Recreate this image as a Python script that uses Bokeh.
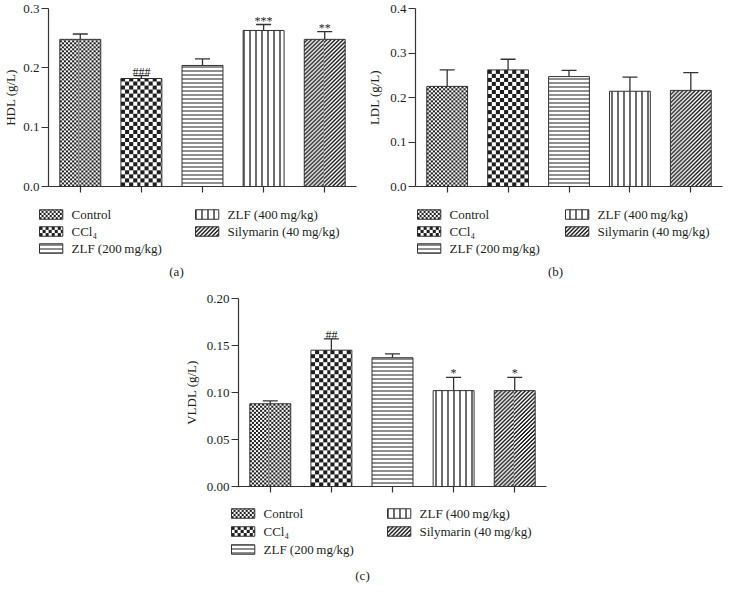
import numpy as np
from bokeh.plotting import figure
from bokeh.models import (ColumnDataSource, Range1d, FixedTicker, NumeralTickFormatter,
                          Whisker, TeeHead, Spacer)
from bokeh.layouts import column, row
from bokeh.embed import file_html
from bokeh.resources import INLINE
from bokeh.core.properties import value

# ---------------- data ----------------
groups = ["Control", "CCl\u2084", "ZLF (200\u2009mg/kg)", "ZLF (400\u2009mg/kg)", "Silymarin (40\u2009mg/kg)"]

hdl_mean = [0.248, 0.182, 0.204, 0.263, 0.248]
hdl_err = [0.009, 0.005, 0.011, 0.010, 0.013]
hdl_sig = ["", "###", "", "***", "**"]

ldl_mean = [0.225, 0.262, 0.247, 0.214, 0.216]
ldl_err = [0.037, 0.024, 0.014, 0.032, 0.040]
ldl_sig = ["", "", "", "", ""]

vldl_mean = [0.088, 0.145, 0.137, 0.102, 0.102]
vldl_err = [0.003, 0.012, 0.004, 0.014, 0.014]
vldl_sig = ["", "##", "", "*", "*"]

hdl_ticks = [0.0, 0.1, 0.2, 0.3]
ldl_ticks = [0.0, 0.1, 0.2, 0.3, 0.4]
vldl_ticks = [0.0, 0.05, 0.10, 0.15, 0.20]

# ---------------- style ----------------
FONT = "Liberation Serif"
INK = "#231f20"
BAR_LINE = "#333333"
HATCH = "#1e1e1e"
DARK_RGB = (30, 30, 30)
BAR_W = 0.67
X0, X1 = -0.52, 4.52

# per-group fill style: (texture kind, cell px) or hatch kwargs
bar_styles = [
    ("checker", 2),
    ("checker", 4),
    dict(hatch_pattern="-", hatch_scale=4, hatch_weight=1),
    dict(hatch_pattern="|", hatch_scale=6, hatch_weight=1.3),
    ("diag", 4),
]
swatch_cells = [2, 3, None, None, 4]


def texture_rgba(kind, nx, ny, cell):
    nx, ny = max(int(round(nx)), 1), max(int(round(ny)), 1)
    jj, ii = np.mgrid[0:ny, 0:nx]
    if kind == "checker":
        dark = ((ii // cell) + (jj // cell)) % 2 == 0
    else:  # right-diagonal stripes
        dark = ((ii - jj) % cell) < cell / 2
    img = np.empty((ny, nx), dtype=np.uint32)
    v = img.view(dtype=np.uint8).reshape((ny, nx, 4))
    v[..., 0] = np.where(dark, DARK_RGB[0], 255)
    v[..., 1] = np.where(dark, DARK_RGB[1], 255)
    v[..., 2] = np.where(dark, DARK_RGB[2], 255)
    v[..., 3] = 255
    return img


def make_plot(means, errs, sig, ylabel, yticks, yfmt, ymax, width, height,
              mb_left, mb_right, mb_top, mb_bottom, label_standoff):
    x = list(range(len(groups)))
    upper = [m + e for m, e in zip(means, errs)]
    src = ColumnDataSource(dict(x=x, top=means, upper=upper, sig=sig))
    p = figure(width=width, height=height, output_backend="svg", toolbar_location=None,
               x_range=Range1d(X0, X1), y_range=Range1d(0, ymax),
               min_border_left=mb_left, min_border_right=mb_right,
               min_border_top=mb_top, min_border_bottom=mb_bottom)
    p.outline_line_color = None
    p.xgrid.visible = False
    p.ygrid.visible = False

    fw = width - mb_left - mb_right
    fh = height - mb_top - mb_bottom
    px_x = fw / (X1 - X0)
    px_y = fh / ymax

    for i in x:
        st = bar_styles[i]
        if isinstance(st, tuple):
            img = texture_rgba(st[0], BAR_W * px_x, means[i] * px_y, st[1])
            p.image_rgba(image=[img], x=x[i] - BAR_W / 2, y=0, dw=BAR_W, dh=means[i])
            p.vbar(x=[x[i]], top=[means[i]], width=BAR_W, fill_color=None,
                   line_color=BAR_LINE, line_width=1)
        else:
            p.vbar(x=[x[i]], top=[means[i]], width=BAR_W, fill_color="white",
                   line_color=BAR_LINE, line_width=1, hatch_color=HATCH, **st)

    w = Whisker(source=src, base="x", lower="top", upper="upper", dimension="height",
                line_color=BAR_LINE, line_width=1.3,
                upper_head=TeeHead(size=15, line_color=BAR_LINE, line_width=1.3),
                lower_head=None)
    p.add_layout(w)

    if any(s for s in sig):
        p.text(x="x", y="upper", text="sig", source=src, text_font=value(FONT),
               text_font_size="12px", text_align="center", text_baseline="alphabetic",
               y_offset=-4, text_color=INK)

    xa = p.xaxis[0]
    xa.ticker = FixedTicker(ticks=x)
    xa.major_label_overrides = {i: "" for i in x}
    xa.major_label_text_font_size = "0px"
    xa.major_label_standoff = 0
    xa.major_tick_in = 0
    xa.major_tick_out = 6
    xa.minor_tick_in = 0
    xa.minor_tick_out = 0
    xa.axis_line_color = BAR_LINE
    xa.major_tick_line_color = BAR_LINE
    xa.axis_line_width = 1.2
    xa.major_tick_line_width = 1.2

    ya = p.yaxis[0]
    ya.ticker = FixedTicker(ticks=yticks)
    ya.formatter = NumeralTickFormatter(format=yfmt)
    ya.major_tick_in = 0
    ya.major_tick_out = 7
    ya.minor_tick_in = 0
    ya.minor_tick_out = 0
    ya.axis_line_color = BAR_LINE
    ya.major_tick_line_color = BAR_LINE
    ya.axis_line_width = 1.2
    ya.major_tick_line_width = 1.2
    ya.major_label_text_font = FONT
    ya.major_label_text_font_size = "13px"
    ya.major_label_text_color = INK
    ya.major_label_standoff = 2
    ya.axis_label = ylabel
    ya.axis_label_text_font = FONT
    ya.axis_label_text_font_size = "13px"
    ya.axis_label_text_font_style = "normal"
    ya.axis_label_text_color = INK
    ya.axis_label_standoff = label_standoff
    return p


SW_W, SW_H, SW_GAP = 23.3, 9.5, 32


def make_legend(width, height, col_text_x, rows_rel, caption, cap_x, cap_rel):
    lf = figure(width=width, height=height, output_backend="svg", toolbar_location=None,
                x_range=Range1d(0, width), y_range=Range1d(0, height),
                x_axis_location=None, y_axis_location=None, min_border=0)
    lf.outline_line_color = None
    lf.xgrid.visible = False
    lf.ygrid.visible = False
    slots = [(0, 0), (0, 1), (0, 2), (1, 0), (1, 1)]
    for i, (c, r) in enumerate(slots):
        tx = col_text_x[c]
        yc = height - rows_rel[r]
        left = tx - SW_GAP
        st = bar_styles[i]
        if isinstance(st, tuple):
            img = texture_rgba(st[0], SW_W, SW_H, swatch_cells[i])
            lf.image_rgba(image=[img], x=left, y=yc - SW_H / 2, dw=SW_W, dh=SW_H)
            lf.quad(left=[left], right=[left + SW_W], bottom=[yc - SW_H / 2], top=[yc + SW_H / 2],
                    fill_color=None, line_color=BAR_LINE, line_width=1)
        else:
            lf.quad(left=[left], right=[left + SW_W], bottom=[yc - SW_H / 2], top=[yc + SW_H / 2],
                    fill_color="white", line_color=BAR_LINE, line_width=1, hatch_color=HATCH, **st)
        lf.text(x=[tx], y=[yc], text=[groups[i]], text_font=value(FONT), text_font_size="13px",
                text_baseline="middle", text_align="left", text_color=INK)
    lf.text(x=[cap_x], y=[height - cap_rel], text=[caption], text_font=value(FONT),
            text_font_size="13px", text_baseline="middle", text_align="center", text_color=INK)
    return lf


# top row: plots abs y 8..214, frame abs y 16..194
pa = make_plot(hdl_mean, hdl_err, hdl_sig, "HDL (g/L)", hdl_ticks, "0.0", 0.3,
               width=362, height=206, mb_left=43, mb_right=6, mb_top=8, mb_bottom=20,
               label_standoff=2)
pb = make_plot(ldl_mean, ldl_err, ldl_sig, "LDL (g/L)", ldl_ticks, "0.0", 0.4,
               width=362, height=206, mb_left=53, mb_right=2, mb_top=8, mb_bottom=20,
               label_standoff=5)
# legends of top row: abs y 214..292
la = make_legend(362, 78, (71, 227), (8, 25, 42), "(a)", 176, 65)
lb = make_legend(362, 78, (87, 235), (8, 25, 42), "(b)", 193, 65)

# bottom: plot abs y 292..514 (frame 306..494), legend 514..591
pc = make_plot(vldl_mean, vldl_err, vldl_sig, "VLDL (g/L)", vldl_ticks, "0.00", 0.2,
               width=376, height=222, mb_left=53, mb_right=10, mb_top=14, mb_bottom=20,
               label_standoff=5)
lc = make_legend(376, 77, (83, 239), (7, 25, 43), "(c)", 182, 69)

layout = column(row(pa, pb), row(la, lb),
                row(Spacer(width=180, height=222), pc),
                row(Spacer(width=180, height=77), lc))

open("out.html", "w").write(file_html(layout, INLINE))
